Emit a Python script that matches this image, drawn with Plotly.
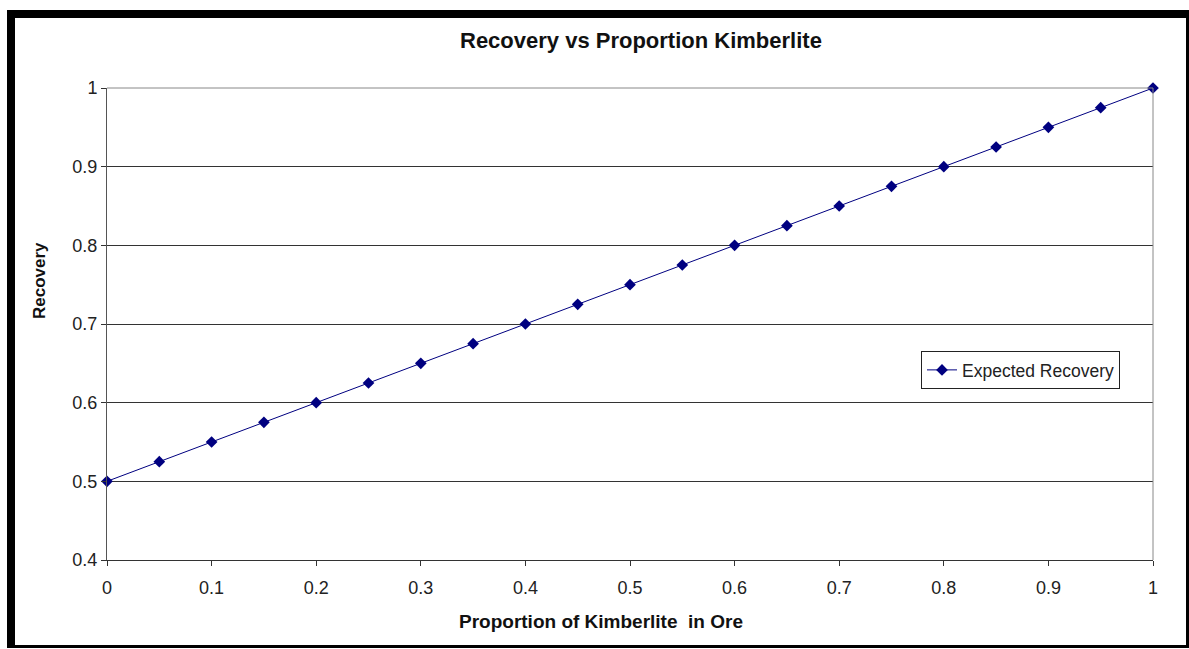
import plotly.graph_objects as go

# Proportion of kimberlite in the ore and the expected recovery at each step
proportion = [0.0, 0.05, 0.1, 0.15, 0.2, 0.25, 0.3, 0.35, 0.4, 0.45, 0.5,
              0.55, 0.6, 0.65, 0.7, 0.75, 0.8, 0.85, 0.9, 0.95, 1.0]
recovery = [0.5, 0.525, 0.55, 0.575, 0.6, 0.625, 0.65, 0.675, 0.7, 0.725, 0.75,
            0.775, 0.8, 0.825, 0.85, 0.875, 0.9, 0.925, 0.95, 0.975, 1.0]

x_ticks = [0.0, 0.1, 0.2, 0.3, 0.4, 0.5, 0.6, 0.7, 0.8, 0.9, 1.0]
x_tick_labels = ["0", "0.1", "0.2", "0.3", "0.4", "0.5", "0.6", "0.7", "0.8", "0.9", "1"]
y_ticks = [0.4, 0.5, 0.6, 0.7, 0.8, 0.9, 1.0]
y_tick_labels = ["0.4", "0.5", "0.6", "0.7", "0.8", "0.9", "1"]

W, H = 1189, 649
L, R, T, B = 107, 36, 88, 89
PW, PH = W - L - R, H - T - B


def px(x):
    return (x - L) / PW


def py(y):
    return (H - B - y) / PH


FONT = "Liberation Sans, Arial, sans-serif"
NAVY = "#000080"

fig = go.Figure()
fig.add_trace(go.Scatter(
    x=proportion, y=recovery, mode="lines+markers",
    name="Expected Recovery",
    line=dict(color=NAVY, width=1),
    marker=dict(symbol="diamond", size=9, color=NAVY),
    cliponaxis=False,
))

fig.update_layout(
    width=W, height=H,
    margin=dict(l=L, r=R, t=T, b=B),
    paper_bgcolor="white", plot_bgcolor="white",
    font=dict(family=FONT, size=18, color="#222"),
    showlegend=True,
    legend=dict(
        x=px(921), y=py(351), xanchor="left", yanchor="top",
        bgcolor="white", bordercolor="#222", borderwidth=1,
        font=dict(family=FONT, size=17.5, color="#222"),
        itemwidth=30, tracegroupgap=0,
    ),
    xaxis=dict(
        range=[0, 1], tickvals=x_ticks, ticktext=x_tick_labels,
        showgrid=False, zeroline=False,
        showline=True, linecolor="#333", linewidth=1,
        ticks="outside", ticklen=5, tickcolor="#333",
        ticklabelstandoff=6,
        tickfont=dict(family=FONT, size=18, color="#222"),
    ),
    yaxis=dict(
        range=[0.4, 1], tickvals=y_ticks, ticktext=y_tick_labels,
        showgrid=True, gridcolor="#333", gridwidth=1,
        zeroline=False,
        showline=True, linecolor="#555", linewidth=1,
        ticks="outside", ticklen=5, tickcolor="#333",
        tickfont=dict(family=FONT, size=18, color="#222"),
    ),
)

# Plot-area border on top and right edges
fig.add_shape(type="line", xref="paper", yref="paper", x0=0, x1=1, y0=1, y1=1,
              line=dict(color="#888", width=1))
fig.add_shape(type="line", xref="paper", yref="paper", x0=1, x1=1, y0=0, y1=1,
              line=dict(color="#888", width=1))

# Outer chart frame: heavy top and left edges, lighter right and bottom
frame = [
    (7, 10, 15, 648),     # left
    (7, 10, 1189, 18),    # top
    (1186, 10, 1189, 648),  # right
    (7, 645, 1189, 648),  # bottom
]
for x0, y0, x1, y1 in frame:
    fig.add_shape(type="rect", xref="paper", yref="paper",
                  x0=px(x0), x1=px(x1), y0=py(y0), y1=py(y1),
                  fillcolor="black", line=dict(width=0), layer="above")

fig.add_annotation(text="<b>Recovery vs Proportion Kimberlite</b>",
                   xref="paper", yref="paper", x=px(641), y=py(41),
                   xanchor="center", yanchor="middle",
                   showarrow=False, font=dict(family=FONT, size=22, color="#111"))
fig.add_annotation(text="<b>Proportion of Kimberlite  in Ore</b>",
                   xref="paper", yref="paper", x=px(601), y=py(621),
                   xanchor="center", yanchor="middle",
                   showarrow=False, font=dict(family=FONT, size=19, color="#111"))
fig.add_annotation(text="<b>Recovery</b>", textangle=-90,
                   xref="paper", yref="paper", x=px(39), y=py(281),
                   xanchor="center", yanchor="middle",
                   showarrow=False, font=dict(family=FONT, size=17, color="#111"))

fig.write_html("out.html")
